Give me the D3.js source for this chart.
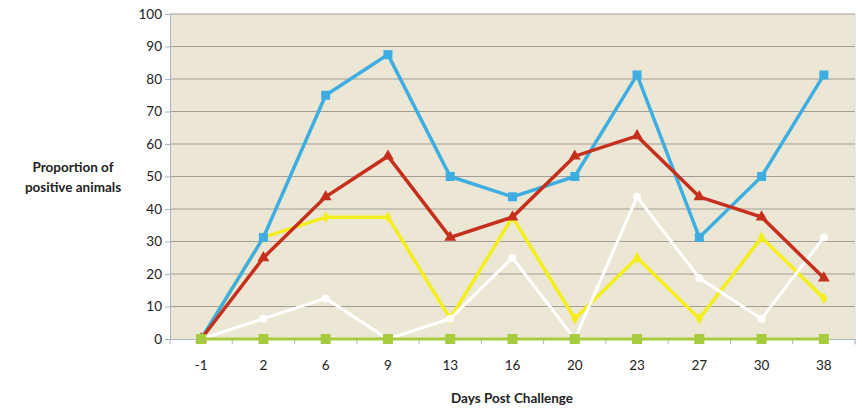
<!DOCTYPE html>
<html><head><meta charset="utf-8">
<script src="https://cdn.jsdelivr.net/npm/d3@7"></script>
<style>body{margin:0;background:#fff}svg{display:block}</style>
</head><body>
<svg id="c" width="862" height="408"></svg>
<script>
const days = ["-1","2","6","9","13","16","20","23","27","30","38"];
const blueVals   = [0,31.25,75,87.5,50,43.75,50,81.25,31.25,50,81.25];
const redVals    = [0,25,43.75,56.25,31.25,37.5,56.25,62.5,43.75,37.5,18.75];
const yellowVals = [0,31.25,37.5,37.5,6.25,37.5,6.25,25,6.25,31.25,12.5];
const whiteVals  = [0,6.25,12.5,0,6.25,25,0,43.75,18.75,6.25,31.25];
const greenVals  = [0,0,0,0,0,0,0,0,0,0,0];
const yTicks = [0,10,20,30,40,50,60,70,80,90,100];

const svg = d3.select("#c");
const L=170,R=855,T=14,B=339;
const x = d3.scaleBand().domain(days).range([L,R]);
const y = d3.scaleLinear().domain([0,100]).range([B,T]);
const cx = d => x(d)+x.bandwidth()/2;
const tf = "Lato, 'Open Sans', sans-serif";

svg.append("rect").attr("x",L).attr("y",T).attr("width",R-L).attr("height",B-T).attr("fill","#ece7d5");
svg.append("line").attr("x1",R).attr("x2",R).attr("y1",T).attr("y2",B+6).attr("stroke","#d8d8e0").attr("stroke-width",1);

// gridlines
svg.append("g").selectAll("line").data(yTicks.filter(t=>t>0)).join("line")
  .attr("x1",L).attr("x2",R).attr("y1",d=>y(d)).attr("y2",d=>y(d))
  .attr("stroke","#a39d98").attr("stroke-width",1);

// y axis
const ya = svg.append("g").attr("transform",`translate(${L},0)`)
  .call(d3.axisLeft(y).tickValues(yTicks).tickSize(5).tickPadding(3));
ya.select(".domain").attr("stroke","#a9b4c8");
ya.selectAll(".tick line").attr("stroke","#a9b4c8");
ya.selectAll("text").attr("font-family",tf).attr("font-size",13.5).attr("fill","#222");

// x axis
const xa = svg.append("g").attr("transform",`translate(0,${B})`)
  .call(d3.axisBottom(x).tickSize(0).tickPadding(21));
xa.select(".domain").attr("stroke","#a9b4c8");
xa.selectAll("text").attr("font-family",tf).attr("font-size",13.5).attr("fill","#222");
const bounds = days.map((d,i)=>x(d)).concat([R]);
svg.append("g").selectAll("line").data(bounds).join("line")
  .attr("x1",d=>d).attr("x2",d=>d).attr("y1",B).attr("y2",B+5)
  .attr("stroke","#a9b4c8");

const line = d3.line().x((d,i)=>cx(days[i])).y(d=>y(d));

function series(vals,color,width,marker){
  const g = svg.append("g");
  g.append("path").datum(vals).attr("d",line).attr("fill","none")
    .attr("stroke",color).attr("stroke-width",width).attr("stroke-linejoin","miter");
  g.selectAll("path.m").data(vals).join("path").attr("class","m")
    .attr("transform",(d,i)=>`translate(${cx(days[i])},${y(d)})`)
    .attr("d",marker).attr("fill",color);
}
const sq = s => d3.symbol().type(d3.symbolSquare).size(s*s)();
const tri = s => d3.symbol().type(d3.symbolTriangle).size(s)();
const dia = s => d3.symbol().type(d3.symbolDiamond).size(s)();
const circ = s => d3.symbol().type(d3.symbolCircle).size(s)();

series(yellowVals,"#f4ee1c",3.5,dia(40));
series(whiteVals,"#ffffff",3,circ(50));
series(blueVals,"#3eaee2",3.5,sq(9));
series(redVals,"#c52f1c",3.5,tri(60));
series(greenVals,"#a6cb3e",3,sq(10));

// titles
const yt = svg.append("text").attr("font-family",tf).attr("font-size",13.5).attr("font-weight","bold").attr("fill","#222").attr("text-anchor","middle");
yt.append("tspan").attr("x",73).attr("y",172).text("Proportion of");
yt.append("tspan").attr("x",73).attr("y",192).text("positive animals");
svg.append("text").attr("x",512).attr("y",403).attr("font-family",tf).attr("font-size",13.5).attr("font-weight","bold").attr("fill","#222").attr("text-anchor","middle").text("Days Post Challenge");
</script>
</body></html>
